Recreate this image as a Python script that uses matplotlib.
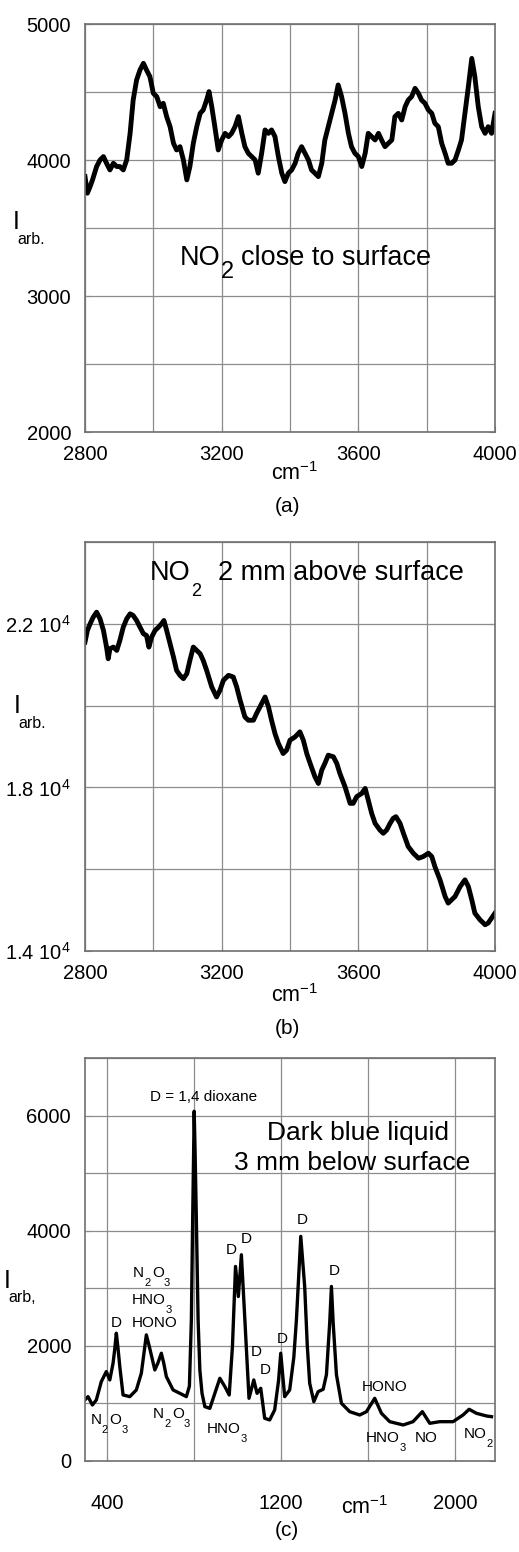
import matplotlib
matplotlib.use("Agg")
import matplotlib.pyplot as plt
from matplotlib.ticker import FixedLocator, FixedFormatter

plt.rcParams["font.family"] = ["Liberation Sans", "DejaVu Sans"]
plt.rcParams["mathtext.fontset"] = "custom"
plt.rcParams["mathtext.rm"] = "Liberation Sans"
plt.rcParams["mathtext.it"] = "Liberation Sans:italic"
plt.rcParams["mathtext.bf"] = "Liberation Sans:bold"

# =========================================================
# DATA
# =========================================================

# (a) NO2 close to surface
a_wn = [2800, 2807, 2815, 2822, 2834, 2844, 2854, 2863, 2873, 2883, 2893, 2902,
        2912, 2922, 2932, 2941, 2951, 2961, 2971, 2980, 2990, 3000, 3010, 3020,
        3029, 3039, 3049, 3059, 3068, 3078, 3088, 3098, 3107, 3117, 3127, 3137,
        3146, 3156, 3163, 3171, 3180, 3190, 3200, 3210, 3220, 3229, 3239, 3249,
        3259, 3268, 3278, 3288, 3298, 3307, 3317, 3327, 3337, 3346, 3356, 3366,
        3376, 3385, 3395, 3405, 3415, 3424, 3434, 3444, 3454, 3463, 3473, 3483,
        3493, 3502, 3512, 3522, 3532, 3541, 3551, 3561, 3571, 3580, 3590, 3600,
        3610, 3620, 3629, 3639, 3649, 3659, 3668, 3678, 3688, 3698, 3707, 3717,
        3727, 3737, 3746, 3756, 3766, 3776, 3785, 3795, 3805, 3815, 3824, 3834,
        3844, 3854, 3863, 3873, 3883, 3893, 3902, 3912, 3922, 3932, 3941, 3951,
        3961, 3971, 3980, 3990, 4000]
a_int = [3878, 3756, 3805, 3854, 3952, 4000, 4025, 3976, 3927, 3976, 3952, 3952,
         3927, 4000, 4196, 4441, 4588, 4662, 4711, 4662, 4613, 4490, 4466, 4392,
         4417, 4319, 4245, 4123, 4074, 4098, 4000, 3854, 3952, 4123, 4245, 4343,
         4368, 4441, 4503, 4392, 4245, 4074, 4147, 4196, 4172, 4196, 4245, 4319,
         4196, 4098, 4049, 4025, 4000, 3903, 4049, 4221, 4196, 4221, 4172, 4025,
         3903, 3841, 3903, 3927, 3976, 4049, 4098, 4049, 4000, 3927, 3903, 3878,
         3976, 4147, 4245, 4343, 4441, 4552, 4466, 4343, 4196, 4098, 4049, 4025,
         3952, 4049, 4196, 4172, 4147, 4196, 4147, 4098, 4123, 4147, 4319, 4343,
         4294, 4392, 4441, 4466, 4527, 4490, 4441, 4417, 4368, 4343, 4270, 4245,
         4123, 4049, 3976, 3976, 4000, 4074, 4147, 4343, 4539, 4747, 4613, 4392,
         4245, 4196, 4245, 4196, 4343]

# (b) NO2 2 mm above surface
b_wn = [2800, 2807, 2815, 2824, 2834, 2844, 2854, 2863, 2868, 2873, 2883, 2893,
        2902, 2912, 2922, 2932, 2941, 2951, 2961, 2971, 2980, 2987, 2995, 3005,
        3015, 3024, 3031, 3039, 3049, 3059, 3068, 3078, 3088, 3098, 3107, 3117,
        3127, 3137, 3146, 3156, 3171, 3185, 3195, 3205, 3220, 3234, 3244, 3254,
        3268, 3278, 3293, 3302, 3312, 3327, 3337, 3346, 3356, 3366, 3380, 3390,
        3400, 3415, 3429, 3439, 3449, 3459, 3473, 3483, 3493, 3502, 3512, 3527,
        3537, 3546, 3561, 3576, 3585, 3595, 3610, 3620, 3629, 3639, 3649, 3663,
        3673, 3683, 3693, 3702, 3710, 3722, 3732, 3746, 3761, 3776, 3790, 3805,
        3815, 3824, 3839, 3854, 3863, 3873, 3883, 3898, 3912, 3922, 3932, 3941,
        3956, 3971, 3980, 3990, 4000]
b_int = [21553, 21837, 22000, 22162, 22284, 22122, 21837, 21431, 21146, 21390,
         21431, 21349, 21593, 21918, 22122, 22244, 22203, 22081, 21918, 21756,
         21715, 21431, 21675, 21837, 21918, 22000, 22081, 21837, 21512, 21187,
         20862, 20740, 20658, 20780, 21105, 21431, 21349, 21268, 21105, 20862,
         20455, 20211, 20374, 20618, 20740, 20699, 20455, 20130, 19723, 19642,
         19642, 19805, 19967, 20211, 19967, 19642, 19317, 19073, 18829, 18910,
         19154, 19236, 19358, 19154, 18829, 18585, 18260, 18097, 18423, 18585,
         18788, 18748, 18585, 18341, 18016, 17610, 17610, 17772, 17853, 17975,
         17691, 17366, 17122, 16959, 16878, 16959, 17122, 17244, 17284, 17122,
         16878, 16553, 16390, 16268, 16309, 16390, 16309, 16065, 15740, 15333,
         15171, 15252, 15333, 15577, 15740, 15577, 15252, 14927, 14764, 14642,
         14683, 14805, 14927]

# (c) dark blue liquid 3 mm below surface
c_wn = [299, 314, 334, 352, 375, 398, 414, 429, 437, 444, 452, 460, 475, 506,
        536, 559, 572, 582, 595, 621, 635, 651, 662, 674, 705, 736, 766, 780,
        789, 795, 802, 806, 812, 820, 828, 838, 851, 874, 897, 920, 943, 963,
        978, 992, 1005, 1019, 1035, 1054, 1076, 1091, 1108, 1126, 1149, 1172,
        1190, 1200, 1210, 1218, 1241, 1260, 1272, 1292, 1310, 1322, 1333, 1352,
        1372, 1395, 1410, 1425, 1433, 1441, 1456, 1479, 1517, 1563, 1594, 1632,
        1663, 1701, 1763, 1808, 1851, 1885, 1931, 1992, 2038, 2066, 2100, 2146,
        2169]
c_int = [1060, 1118, 973, 1060, 1379, 1553, 1408, 1698, 1950, 2220, 1950, 1640,
         1147, 1118, 1234, 1524, 1900, 2191, 2000, 1582, 1700, 1872, 1700, 1466,
         1234, 1176, 1118, 1300, 2452, 4200, 6075, 5400, 4191, 2452, 1582, 1176,
         944, 915, 1176, 1437, 1292, 1147, 2000, 3379, 2857, 3582, 2452, 1089,
         1408, 1176, 1263, 742, 713, 887, 1400, 1872, 1450, 1118, 1234, 1800,
         2452, 3901, 3031, 2000, 1350, 1031, 1205, 1246, 1500, 2400, 3031, 2400,
         1500, 1002, 857, 799, 857, 1089, 828, 683, 626, 683, 857, 655, 683, 683,
         799, 898, 828, 782, 770]

# simple peak labels for (c): text, centre wavenumber, intensity
c_labels = [
    ("D", 444, 2394),
    ("HONO", 621, 2394),
    ("D", 973, 3669),
    ("D", 1042, 3854),
    ("D", 1088, 1901),
    ("D", 1130, 1582),
    ("D", 1208, 2121),
    ("D", 1297, 4179),
    ("D", 1448, 3292),
    ("HONO", 1678, 1292),
    ("NO", 1867, 394),
]

# formula labels for (c): parts (odd entries are subscripts), left wavenumber, intensity
c_formulas = [
    (["N", "2", "O", "3"], 520, 3263),
    (["HNO", "3"], 515, 2799),
    (["N", "2", "O", "3"], 326, 713),
    (["N", "2", "O", "3"], 612, 811),
    (["HNO", "3"], 860, 556),
    (["HNO", "3"], 1591, 394),
    (["NO", "2"], 2041, 463),
]

# =========================================================
# FIGURE
# =========================================================

W, H = 519, 1552
fig = plt.figure(figsize=(W / 100, H / 100), dpi=100)

GRID = "#8c8c8c"
LINE = "black"


def px_axes(left, top, right, bottom):
    return fig.add_axes([left / W, 1 - bottom / H, (right - left) / W, (bottom - top) / H])


def style(ax, xmaj, xmin, ymaj, ymin, ylabels, xpad=9):
    ax.xaxis.set_major_locator(FixedLocator(xmaj))
    ax.xaxis.set_minor_locator(FixedLocator(xmin))
    ax.yaxis.set_major_locator(FixedLocator(ymaj))
    ax.yaxis.set_minor_locator(FixedLocator(ymin))
    ax.yaxis.set_major_formatter(FixedFormatter(ylabels))
    ax.grid(True, which="both", color=GRID, linewidth=0.9)
    ax.tick_params(which="both", direction="in", length=4, color=GRID,
                   right=True, top=False, labelsize=14.5)
    ax.tick_params(axis="x", pad=xpad)
    ax.tick_params(axis="y", pad=10)
    for s in ax.spines.values():
        s.set_color("#707070")
        s.set_linewidth(1.2)
    ax.set_axisbelow(True)


def ylab(x, y, sub):
    fig.text(x / W, 1 - y / H, "I", fontsize=18, ha="left", va="center")
    fig.text((x + 4) / W, 1 - (y + 17) / H, sub, fontsize=11.5, ha="left", va="center")


def xlab(x, y, tag_y, tag):
    fig.text(x / W, 1 - y / H, r"cm$^{-1}$", fontsize=15.5, ha="center", va="center")
    fig.text(287 / W, 1 - tag_y / H, tag, fontsize=15, ha="center", va="center")


def chain(ax, x, y, parts, fs, sub_fs, drop, gaps):
    # parts alternate normal / subscript; each piece placed after the previous one
    base = ax.text(x, y, parts[0], fontsize=fs, ha="left", va="center")
    prev = base
    for i, p in enumerate(parts[1:], start=1):
        sub = i % 2 == 1
        prev = ax.annotate(p, xy=(1, 0.5), xycoords=(prev, base),
                           xytext=(gaps[i - 1], -drop if sub else 0),
                           textcoords="offset points",
                           fontsize=sub_fs if sub else fs,
                           ha="left", va="center")


# ---- (a)
ax_a = px_axes(85, 24, 495, 432)
ax_a.plot(a_wn, a_int, color=LINE, linewidth=3.5)
ax_a.set_xlim(2800, 4000)
ax_a.set_ylim(2000, 5000)
style(ax_a, [2800, 3200, 3600, 4000], [3000, 3400, 3800],
      [2000, 3000, 4000, 5000], [2500, 3500, 4500],
      ["2000", "3000", "4000", "5000"])
chain(ax_a, 3078, 3279, ["NO", "2", "close to surface"], 19.5, 17, 10, [0.3, 5])
ylab(13, 222, "arb.")
xlab(295, 474, 507, "(a)")

# ---- (b)
ax_b = px_axes(85, 542, 495, 951)
ax_b.plot(b_wn, b_int, color=LINE, linewidth=3.5)
ax_b.set_xlim(2800, 4000)
ax_b.set_ylim(14000, 24000)
style(ax_b, [2800, 3200, 3600, 4000], [3000, 3400, 3800],
      [14000, 18000, 22000], [16000, 20000, 24000],
      [r"1.4 10$^4$", r"1.8 10$^4$", r"2.2 10$^4$"])
chain(ax_b, 2990, 23240, ["NO", "2", "2 mm above surface"], 19.5, 13, 13, [0.3, 12])
ylab(14, 706, "arb.")
xlab(295, 996, 1028, "(b)")

# ---- (c)
ax_c = px_axes(85, 1058, 495, 1461)
ax_c.plot(c_wn, c_int, color=LINE, linewidth=2.4)
ax_c.set_xlim(300, 2185)
ax_c.set_ylim(0, 7000)
style(ax_c, [400, 1200, 2000], [800, 1600],
      [0, 2000, 4000, 6000], [1000, 3000, 5000, 7000],
      ["0", "2000", "4000", "6000"], xpad=24)
ax_c.text(846, 6324, "D = 1,4 dioxane", fontsize=11, ha="center", va="center")
ax_c.text(1556, 5698, "Dark blue liquid", fontsize=19, ha="center", va="center")
ax_c.text(1530, 5176, "3 mm below surface", fontsize=19, ha="center", va="center")
for txt, xx, yy in c_labels:
    ax_c.text(xx, yy, txt, fontsize=11, ha="center", va="center")
for parts, xx, yy in c_formulas:
    chain(ax_c, xx, yy, parts, 11, 8, 7, [0.2, 1.0, 0.2])
ylab(4, 1281, "arb,")
xlab(365, 1508, 1530, "(c)")

fig.savefig("out.png", dpi=100)
